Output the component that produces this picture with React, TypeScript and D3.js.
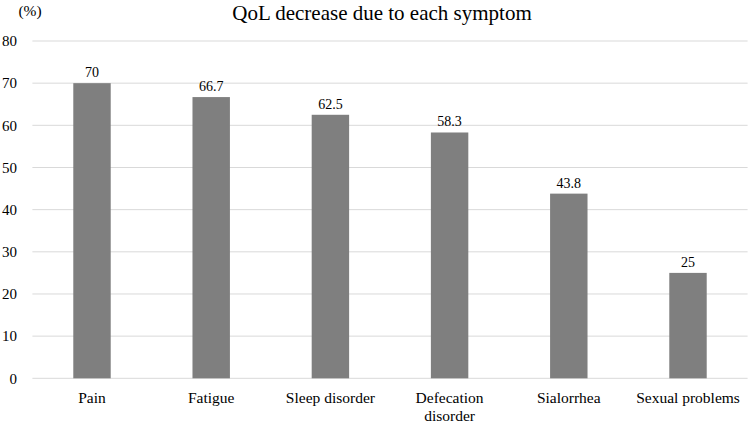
import React from "react";
import * as d3 from "d3";

const categories = ["Pain", "Fatigue", "Sleep disorder", "Defecation disorder", "Sialorrhea", "Sexual problems"];
const categoryLines = [["Pain"], ["Fatigue"], ["Sleep disorder"], ["Defecation", "disorder"], ["Sialorrhea"], ["Sexual problems"]];
const values = [70, 66.7, 62.5, 58.3, 43.8, 25];
const valueLabels = ["70", "66.7", "62.5", "58.3", "43.8", "25"];
const yTicks = [0, 10, 20, 30, 40, 50, 60, 70, 80];

const font = "Liberation Serif, Times New Roman, Times, DejaVu Serif, serif";

export default function App() {
  const W = 749, H = 424;
  const x = d3.scaleBand<string>().domain(categories).range([32.4, 747.6]).paddingInner(0.686).paddingOuter(0.343);
  const y = d3.scaleLinear().domain([0, 80]).range([378.3, 41]);
  const ts = { fontFamily: font };
  return (
    <svg width={W} height={H} style={{ position: "absolute", left: 0, top: 0, background: "#fff" }}>
      <text x={382} y={20} textAnchor="middle" fontSize={21} fill="#000" style={ts}>QoL decrease due to each symptom</text>
      <text x={30} y={16} textAnchor="middle" fontSize={15.5} fill="#000" style={ts}>(%)</text>
      {yTicks.map((t) => (
        <g key={t}>
          <line x1={32.4} x2={747.6} y1={y(t)} y2={y(t)} stroke="#d9d9d9" strokeWidth={1} />
          <text x={17} y={y(t)} dy="0.35em" textAnchor="end" fontSize={15} fill="#000" style={ts}>{t}</text>
        </g>
      ))}
      {categories.map((c, i) => {
        const bx = x(c)!;
        const bw = x.bandwidth();
        return (
          <g key={c}>
            <rect x={bx} y={y(values[i])} width={bw} height={y(0) - y(values[i])} fill="#7f7f7f" />
            <text x={bx + bw / 2} y={y(values[i]) - 6} textAnchor="middle" fontSize={14} fill="#000" style={ts}>{valueLabels[i]}</text>
            {categoryLines[i].map((l, j) => (
              <text key={j} x={bx + bw / 2} y={403 + j * 18} textAnchor="middle" fontSize={15.5} fill="#000" style={ts}>{l}</text>
            ))}
          </g>
        );
      })}
    </svg>
  );
}
